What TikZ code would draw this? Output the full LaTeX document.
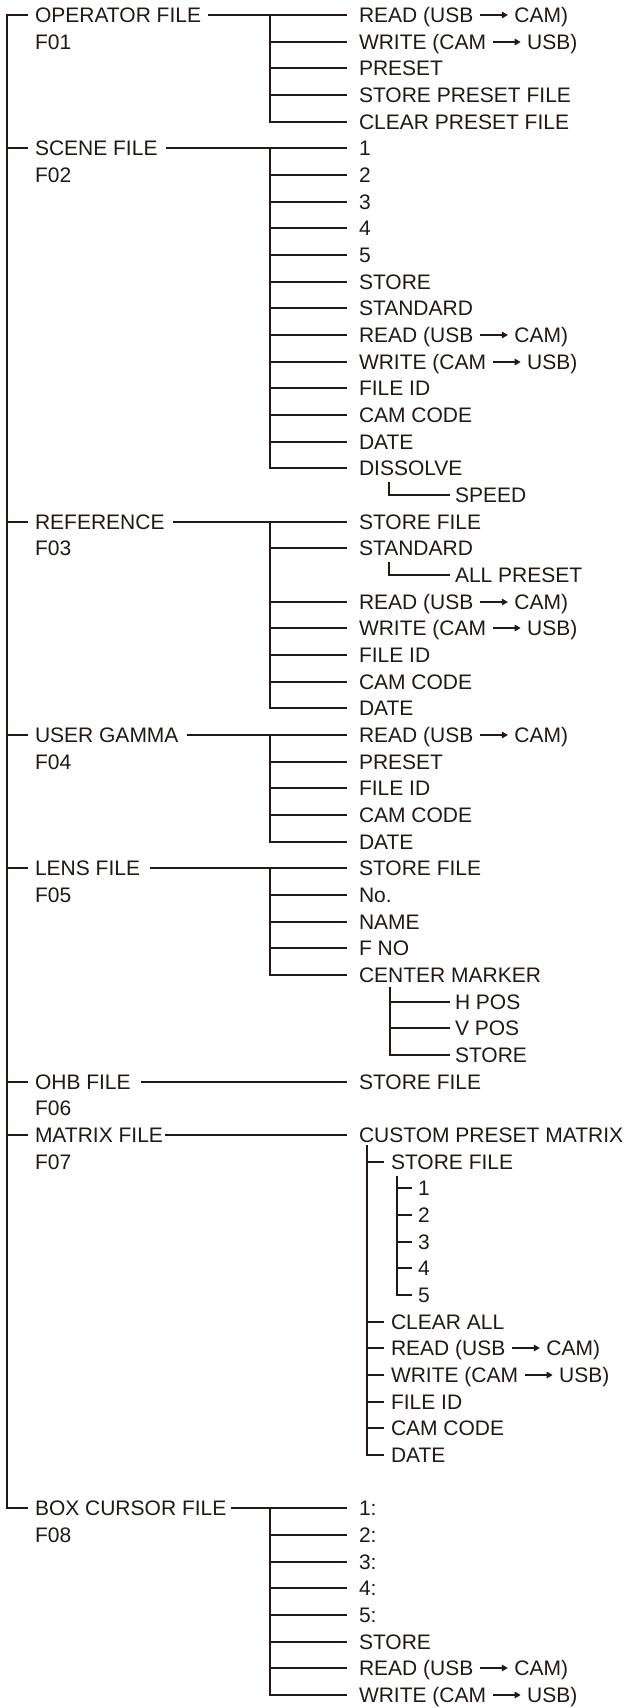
\documentclass[tikz,border=0pt]{standalone}
\usepackage{fontspec}
\setmainfont{Liberation Sans}
\usetikzlibrary{calc,arrows.meta}
\definecolor{ink}{RGB}{35,24,21}
\newcommand\rarr{\tikz[baseline=0pt]\draw[ink,line width=1.4pt,-{Triangle[length=6pt,width=6.5pt]}] (0pt,7.5pt)--(28pt,7.5pt);}
\newcommand\rowy[1]{round(15+26.667*(#1))+7.5}
\tikzset{
  lab/.style={anchor=base west,inner sep=0pt,outer sep=0pt,text=ink,font=\fontsize{21}{25}\selectfont},
  ln/.style={draw=ink,line width=2pt}
}
% #1 name, #2 x, #3 row, #4 gap before text, #5 text
\newcommand\leaf[5]{\node[lab] (#1) at (#2,{\rowy{#3}}) {#5};
  \coordinate (#1-in) at ($(#1.base west)+(-#4,-7.5)$);}
% #1 name, #2 row, #3 text, #4 code, #5 gap after text
\newcommand\grp[5]{\node[lab] (#1) at (35,{\rowy{#2}}) {#3};
  \node[lab] (#1-code) at (35,{\rowy{(#2)+1}}) {#4};
  \coordinate (#1-s) at ($(#1.base west)+(-7,-7.5)$);
  \coordinate (#1-o) at ($(#1.base east)+(#5,-7.5)$);}
% #1 name, #2 bus, #3 row, #4 text
\newcommand\kid[4]{\leaf{#1}{359}{#3}{12}{#4}\draw[ln] (#2 |- #1-in) -- (#1-in);}
\begin{document}
\begin{tikzpicture}[x=1pt,y=-1pt]
\fill[white] (0,0) rectangle (627,1708);
\useasboundingbox (0,0) rectangle (627,1708);
\coordinate (T) at (7,0);
\coordinate (B) at (270,0);
% groups
\grp{g1}{0}{OPERATOR FILE}{F01}{7}
\grp{g2}{5}{SCENE FILE}{F02}{8}
\grp{g3}{19}{REFERENCE}{F03}{8}
\grp{g4}{27}{USER GAMMA}{F04}{8}
\grp{g5}{32}{LENS FILE}{F05}{10}
\grp{g6}{40}{OHB FILE}{F06}{10}
\grp{g7}{42}{MATRIX FILE}{F07}{2}
\grp{g8}{56}{BOX CURSOR FILE}{F08}{5}
\draw[ln] (g1-s) -- (T |- g1-s) -- (T |- g8-s) -- (g8-s);
\foreach \g in {g2,g3,g4,g5,g6,g7}{\draw[ln] (T |- \g-s) -- (\g-s);}
% F01
\kid{a1}{B}{0}{READ (USB \rarr\ CAM)}
\kid{a2}{B}{1}{WRITE (CAM \rarr\ USB)}
\kid{a3}{B}{2}{PRESET}
\kid{a4}{B}{3}{STORE PRESET FILE}
\kid{a5}{B}{4}{CLEAR PRESET FILE}
\draw[ln] (g1-o) -- (a1-in);
\draw[ln] (B |- a1-in) |- (a5-in);
% F02
\kid{b1}{B}{5}{1}
\kid{b2}{B}{6}{2}
\kid{b3}{B}{7}{3}
\kid{b4}{B}{8}{4}
\kid{b5}{B}{9}{5}
\kid{b6}{B}{10}{STORE}
\kid{b7}{B}{11}{STANDARD}
\kid{b8}{B}{12}{READ (USB \rarr\ CAM)}
\kid{b9}{B}{13}{WRITE (CAM \rarr\ USB)}
\kid{b10}{B}{14}{FILE ID}
\kid{b11}{B}{15}{CAM CODE}
\kid{b12}{B}{16}{DATE}
\kid{b13}{B}{17}{DISSOLVE}
\draw[ln] (g2-o) -- (b1-in);
\draw[ln] (B |- b1-in) |- (b13-in);
\leaf{speed}{455}{18}{5}{SPEED}
\coordinate (b13-b) at ($(b13.base west)+(30,6)$);
\draw[ln] (b13-b) |- (speed-in);
% F03
\kid{c1}{B}{19}{STORE FILE}
\kid{c2}{B}{20}{STANDARD}
\leaf{allp}{455}{21}{5}{ALL PRESET}
\coordinate (c2-b) at ($(c2.base west)+(30,6)$);
\draw[ln] (c2-b) |- (allp-in);
\kid{c3}{B}{22}{READ (USB \rarr\ CAM)}
\kid{c4}{B}{23}{WRITE (CAM \rarr\ USB)}
\kid{c5}{B}{24}{FILE ID}
\kid{c6}{B}{25}{CAM CODE}
\kid{c7}{B}{26}{DATE}
\draw[ln] (g3-o) -- (c1-in);
\draw[ln] (B |- c1-in) |- (c7-in);
% F04
\kid{d1}{B}{27}{READ (USB \rarr\ CAM)}
\kid{d2}{B}{28}{PRESET}
\kid{d3}{B}{29}{FILE ID}
\kid{d4}{B}{30}{CAM CODE}
\kid{d5}{B}{31}{DATE}
\draw[ln] (g4-o) -- (d1-in);
\draw[ln] (B |- d1-in) |- (d5-in);
% F05
\kid{e1}{B}{32}{STORE FILE}
\kid{e2}{B}{33}{No.}
\kid{e3}{B}{34}{NAME}
\kid{e4}{B}{35}{F NO}
\kid{e5}{B}{36}{CENTER MARKER}
\draw[ln] (g5-o) -- (e1-in);
\draw[ln] (B |- e1-in) |- (e5-in);
\leaf{hpos}{455}{37}{5}{H POS}
\leaf{vpos}{455}{38}{5}{V POS}
\leaf{cmst}{455}{39}{5}{STORE}
\coordinate (e5-b) at ($(e5.base west)+(31,4.5)$);
\draw[ln] (e5-b) |- (cmst-in);
\draw[ln] (e5-b |- hpos-in) -- (hpos-in);
\draw[ln] (e5-b |- vpos-in) -- (vpos-in);
% F06
\leaf{f1}{359}{40}{12}{STORE FILE}
\draw[ln] (g6-o) -- (f1-in);
% F07
\leaf{m0}{359}{42}{12}{CUSTOM PRESET MATRIX}
\draw[ln] (g7-o) -- (m0-in);
\coordinate (m0-b) at ($(m0.base west)+(8,2.5)$);
\leaf{m1}{391}{43}{7}{STORE FILE}
\leaf{m2}{391}{49}{7}{CLEAR ALL}
\leaf{m3}{391}{50}{7}{READ (USB \rarr\ CAM)}
\leaf{m4}{391}{51}{7}{WRITE (CAM \rarr\ USB)}
\leaf{m5}{391}{52}{7}{FILE ID}
\leaf{m6}{391}{53}{7}{CAM CODE}
\leaf{m7}{391}{54}{7}{DATE}
\draw[ln] (m0-b) |- (m7-in);
\foreach \m in {m1,m2,m3,m4,m5,m6}{\draw[ln] (m0-b |- \m-in) -- (\m-in);}
\coordinate (m1-b) at ($(m1.base west)+(6,6)$);
\leaf{n1}{418}{44}{6.3}{1}
\leaf{n2}{418}{45}{6.3}{2}
\leaf{n3}{418}{46}{6.3}{3}
\leaf{n4}{418}{47}{6.3}{4}
\leaf{n5}{418}{48}{6.3}{5}
\draw[ln] (m1-b) |- (n5-in);
\foreach \n in {n1,n2,n3,n4}{\draw[ln] (m1-b |- \n-in) -- (\n-in);}
% F08
\kid{h1}{B}{56}{1:}
\kid{h2}{B}{57}{2:}
\kid{h3}{B}{58}{3:}
\kid{h4}{B}{59}{4:}
\kid{h5}{B}{60}{5:}
\kid{h6}{B}{61}{STORE}
\kid{h7}{B}{62}{READ (USB \rarr\ CAM)}
\kid{h8}{B}{63}{WRITE (CAM \rarr\ USB)}
\draw[ln] (g8-o) -- (h1-in);
\draw[ln] (B |- h1-in) |- (h8-in);
\end{tikzpicture}
\end{document}
